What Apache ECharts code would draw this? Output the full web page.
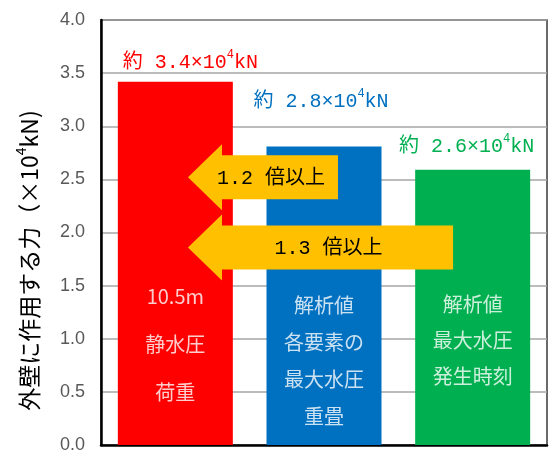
<!DOCTYPE html>
<html>
<head>
<meta charset="utf-8">
<script src="https://cdn.jsdelivr.net/npm/echarts@6/dist/echarts.min.js"></script>
<style>html,body{margin:0;padding:0;background:#fff;}#c{width:557px;height:454px;}</style>
</head>
<body>
<div id="c"></div>
<script>
// ---- data ----
const categories = ['静水圧荷重', '各要素の最大水圧重畳', '最大水圧発生時刻'];
const values = [3.42, 2.81, 2.59];
const topLabelValues = ['3.4', '2.8', '2.6'];
const innerTexts = [
  ['10.5m', '静水圧', '荷重'],
  ['解析値', '各要素の', '最大水圧', '重畳'],
  ['解析値', '最大水圧', '発生時刻']
];
const innerTextY = [0.95, 0.79, 0.98];
const yMin = 0, yMax = 4, yInterval = 0.5;
// arrows: tip / tail in category units (category i centred at i), level in axis units
const arrowTip = [0.085, 0.085];
const arrowTail = [1.094, 1.868];
const arrowLevel = [2.52, 1.86];
const arrowTexts = ['1.2 倍以上', '1.3 倍以上'];

// ---- styles ----
const barColors = ['#FF0000', '#0070C0', '#00B050'];
const labelOffsets = [[15, 0], [-3, -26], [-6, -4]];
const innerLineHeights = [48, 37, 36];
const jpFont = '"Noto Sans CJK JP", sans-serif';
const monoFont = '"Liberation Mono", "Noto Sans CJK JP", monospace';

const chart = echarts.init(document.getElementById('c'), null, {renderer: 'canvas'});

const barData = values.map((v, i) => ({
  value: v,
  itemStyle: {color: barColors[i]},
  label: {
    show: true,
    position: 'top',
    offset: labelOffsets[i],
    formatter: '{t|約 ' + topLabelValues[i] + '×10}{s|4}{t|kN}',
    rich: {
      t: {fontSize: 20, fontFamily: monoFont, color: barColors[i]},
      s: {fontSize: 12, fontFamily: monoFont, color: barColors[i], padding: [0, 0, 16, 0]}
    }
  }
}));

const innerData = innerTextY.map((y, i) => ({
  value: [i, y],
  label: {
    show: true,
    position: 'inside',
    formatter: innerTexts[i].join('\n'),
    color: '#fff',
    fontSize: 20,
    fontFamily: jpFont,
    lineHeight: innerLineHeights[i],
    align: 'center',
    verticalAlign: 'middle'
  }
}));

const arrowData = arrowTip.map((t, i) => [t, arrowTail[i], arrowLevel[i]]);

chart.setOption({
  animation: false,
  backgroundColor: '#fff',
  grid: {left: 101, right: 10, top: 20, bottom: 8, show: true, borderColor: '#3a3a3a', borderWidth: 1.5, backgroundColor: 'transparent'},
  xAxis: [
    {
      type: 'category', data: categories,
      axisLine: {show: true, onZero: false, lineStyle: {color: '#000', width: 2.5}},
      axisTick: {show: false}, axisLabel: {show: false}, splitLine: {show: false}
    },
    {
      type: 'value', min: -0.5, max: 2.5, show: false
    }
  ],
  yAxis: {
    type: 'value', min: yMin, max: yMax, interval: yInterval,
    axisLine: {show: true, onZero: false, lineStyle: {color: '#000', width: 2.5}},
    axisTick: {show: false},
    axisLabel: {
      fontSize: 18, color: '#595959', margin: 16,
      fontFamily: '"Liberation Sans", Arial, sans-serif',
      formatter: v => v.toFixed(1)
    },
    splitLine: {show: true, lineStyle: {color: '#a6a6a6', width: 1.5}},
    name: '{t|外壁に作用する力（×10}{s|4}{t|kN)}',
    nameLocation: 'middle',
    nameRotate: 90,
    nameGap: 57,
    nameTextStyle: {
      padding: [0, 56, 0, 0],
      rich: {
        t: {fontSize: 23, fontFamily: jpFont, color: '#000'},
        s: {fontSize: 14, fontFamily: jpFont, color: '#000', padding: [0, 0, 16, 0]}
      }
    }
  },
  series: [
    {
      type: 'bar', data: barData, barWidth: 115, z: 2
    },
    {
      type: 'scatter', data: innerData, symbolSize: 0, z: 5, silent: true
    },
    {
      type: 'custom', xAxisIndex: 1, yAxisIndex: 0, data: arrowData, z: 4,
      renderItem: function (params, api) {
        const tip = api.coord([api.value(0), api.value(2)]);
        const tail = api.coord([api.value(1), api.value(2)]);
        const y = tip[1];
        const bh = 22, hh = 33, hl = 34;
        const hx = tip[0] + hl;
        const pts = [
          [tip[0], y], [hx, y - hh], [hx, y - bh], [tail[0], y - bh],
          [tail[0], y + bh], [hx, y + bh], [hx, y + hh]
        ];
        return {
          type: 'group',
          children: [
            {type: 'polygon', shape: {points: pts}, style: {fill: '#FFC000'}},
            {type: 'text', x: (hx + tail[0]) / 2 - 9, y: y + 1,
             style: {text: arrowTexts[params.dataIndex], fill: '#000',
                     fontSize: 20, fontFamily: monoFont, align: 'center', verticalAlign: 'middle'}}
          ]
        };
      }
    }
  ]
});
</script>
</body>
</html>
